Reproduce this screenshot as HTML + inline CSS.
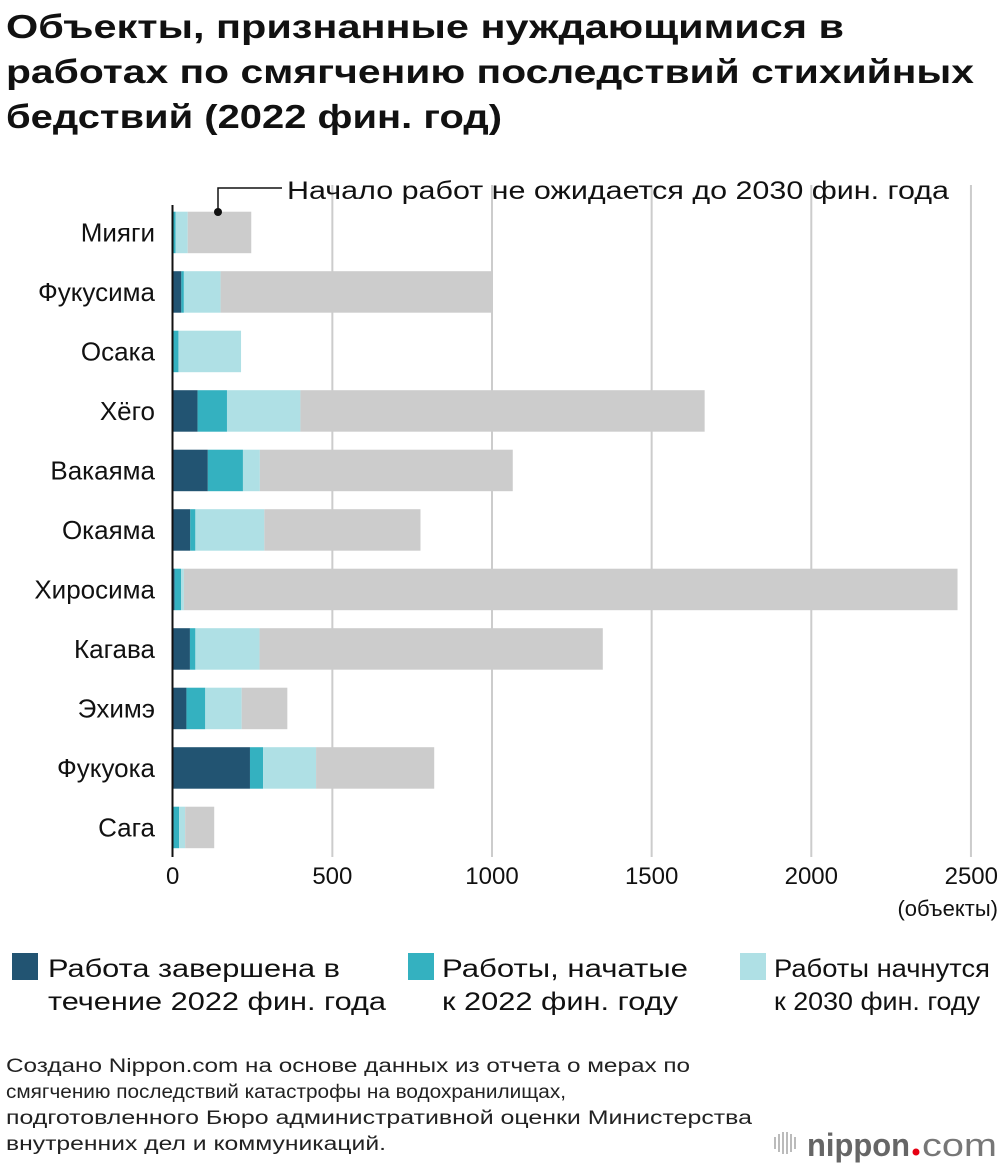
<!DOCTYPE html>
<html><head><meta charset="utf-8">
<style>
html,body{margin:0;padding:0;background:#fff;}
svg{display:block;font-family:"Liberation Sans","Noto Sans CJK JP",sans-serif;}
</style></head>
<body>
<svg id="chart" width="1000" height="1168" viewBox="0 0 1000 1168">
<g font-weight="bold" font-size="33" fill="#111">
<text x="6" y="38" textLength="838" lengthAdjust="spacingAndGlyphs">Объекты, признанные нуждающимися в</text>
<text x="6" y="83" textLength="968" lengthAdjust="spacingAndGlyphs">работах по смягчению последствий стихийных</text>
<text x="6" y="128" textLength="496" lengthAdjust="spacingAndGlyphs">бедствий (2022 фин. год)</text>
</g>
<g id="grid"></g>
<g id="bars"></g>
<g id="cats"></g>
<g id="ticks"></g>
<line x1="172.5" y1="205" x2="172.5" y2="857" stroke="#111" stroke-width="2"/>
<text x="998" y="916" font-size="22" text-anchor="end" fill="#111">(объекты)</text>
<g>
<polyline points="218,212 218,188 282,188" fill="none" stroke="#111" stroke-width="1.5"/>
<circle cx="218" cy="212" r="4" fill="#111"/>
<text x="287" y="199" font-size="25" fill="#111" textLength="662" lengthAdjust="spacingAndGlyphs">Начало работ не ожидается до 2030 фин. года</text>
</g>
<g font-size="25" fill="#111">
<g><rect x="12" y="953" width="26" height="27" fill="#225472"/><text x="48" y="977" textLength="292" lengthAdjust="spacingAndGlyphs">Работа завершена в</text><text x="48" y="1010" textLength="338" lengthAdjust="spacingAndGlyphs">течение 2022 фин. года</text></g>
<g><rect x="408" y="953" width="26" height="27" fill="#34b1c0"/><text x="442" y="977" textLength="246" lengthAdjust="spacingAndGlyphs">Работы, начатые</text><text x="442" y="1010" textLength="236" lengthAdjust="spacingAndGlyphs">к 2022 фин. году</text></g>
<g><rect x="740" y="953" width="26" height="27" fill="#afe0e5"/><text x="774" y="977" textLength="216" lengthAdjust="spacingAndGlyphs">Работы начнутся</text><text x="774" y="1010" textLength="206" lengthAdjust="spacingAndGlyphs">к 2030 фин. году</text></g>
</g>
<g font-size="19" fill="#222">
<text x="6" y="1072" textLength="684" lengthAdjust="spacingAndGlyphs">Создано Nippon.com на основе данных из отчета о мерах по</text>
<text x="6" y="1098" textLength="560" lengthAdjust="spacingAndGlyphs">смягчению последствий катастрофы на водохранилищах,</text>
<text x="6" y="1124" textLength="746" lengthAdjust="spacingAndGlyphs">подготовленного Бюро административной оценки Министерства</text>
<text x="6" y="1150" textLength="380" lengthAdjust="spacingAndGlyphs">внутренних дел и коммуникаций.</text>
</g>
<g>
<g stroke="#bbb" stroke-width="2">
<line x1="775" y1="1137" x2="775" y2="1149"/><line x1="779" y1="1134" x2="779" y2="1152"/><line x1="783" y1="1132" x2="783" y2="1154"/><line x1="787" y1="1132" x2="787" y2="1154"/><line x1="791" y1="1134" x2="791" y2="1152"/><line x1="795" y1="1137" x2="795" y2="1149"/>
</g>
<text x="807" y="1156" font-size="32" font-weight="bold" fill="#666" textLength="103" lengthAdjust="spacingAndGlyphs">nippon</text>
<circle cx="916" cy="1152" r="3.5" fill="#e60012"/>
<text x="922" y="1156" font-size="32" fill="#777" textLength="75" lengthAdjust="spacingAndGlyphs">com</text>
</g>
</svg>
<script>
const categories = ["Мияги","Фукусима","Осака","Хёго","Вакаяма","Окаяма","Хиросима","Кагава","Эхимэ","Фукуока","Сага"];
const completed = [0,27,0,78,110,55,6,54,43,242,0];
const started = [9,8,18,92,110,16,20,17,59,41,20];
const start2030 = [38,115,196,230,53,216,9,201,114,166,19];
const notBefore2030 = [199,850,0,1266,792,489,2423,1075,143,370,91];
const tickValues = [0,500,1000,1500,2000,2500];
const tickLabels = ["0","500","1000","1500","2000","2500"];

const NS = "http://www.w3.org/2000/svg";
const x0 = 172.7, pxPerUnit = 0.3193;
function xScale(v){ return x0 + v * pxPerUnit; }
const rowTop = 211.7, rowPitch = 59.5, barH = 41.5;
function yScale(i){ return rowTop + i * rowPitch; }
function mk(tag, attrs){ const e = document.createElementNS(NS, tag); for (const k in attrs) e.setAttribute(k, attrs[k]); return e; }

const grid = document.getElementById('grid');
const ticks = document.getElementById('ticks');
tickValues.forEach((v, i) => {
  if (i > 0) {
    const l = mk('line', {x1: xScale(v), x2: xScale(v), y1: 185, y2: 857, stroke: '#cccccc', 'stroke-width': 2});
    
    
    grid.appendChild(l);
  }
  const last = i === tickValues.length - 1;
  const t = mk('text', {x: last ? 998 : xScale(v), y: 884, 'font-size': 24, 'text-anchor': last ? 'end' : 'middle', fill: '#111'});
  t.textContent = tickLabels[i];
  
  
  ticks.appendChild(t);
});

const series = [completed, started, start2030, notBefore2030];
const colors = ['#225472', '#34b1c0', '#afe0e5', '#cccccc'];
const segNames = ['bar-completed', 'bar-started', 'bar-start-2030', 'bar-not-before-2030'];
const bars = document.getElementById('bars');
const cats = document.getElementById('cats');
categories.forEach((c, i) => {
  let acc = 0;
  series.forEach((s, k) => {
    const v = s[i];
    if (v > 0) {
      const r = mk('rect', {x: xScale(acc), y: yScale(i), width: xScale(acc + v) - xScale(acc), height: barH, fill: colors[k]});
      
      
      bars.appendChild(r);
    }
    acc += v;
  });
  const t = mk('text', {x: 155, y: yScale(i) + barH/2 + 9, 'font-size': 26, 'text-anchor': 'end', fill: '#111'});
  t.textContent = c;
  
  
  cats.appendChild(t);
});
</script>
</body></html>
